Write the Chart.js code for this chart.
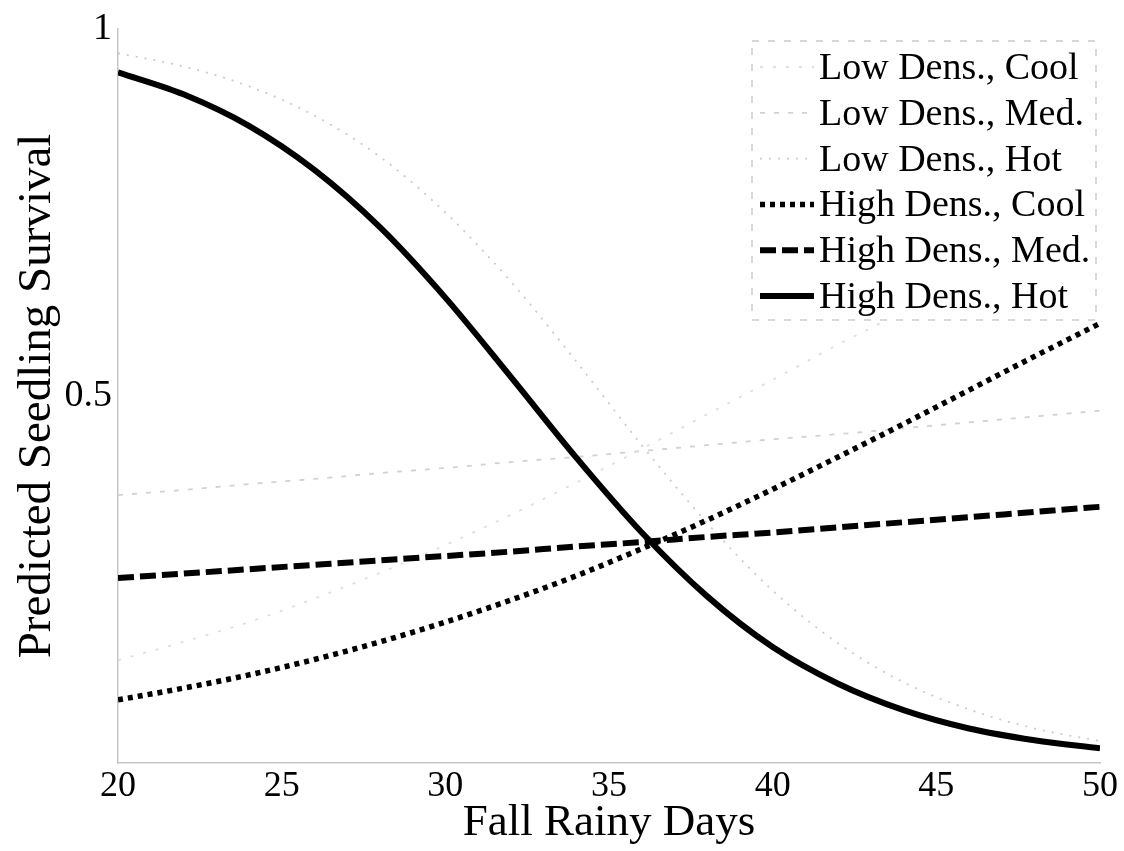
<!DOCTYPE html>
<html>
<head>
<meta charset="utf-8">
<title>Predicted Seedling Survival</title>
<script src="https://cdn.jsdelivr.net/npm/chart.js@4.4.1/dist/chart.umd.min.js"></script>
<style>
  html, body { margin: 0; padding: 0; background: #fff; }
  canvas { display: block; }
</style>
</head>
<body>
<canvas id="chart" width="1124" height="851"></canvas>
<script>
// Fall rainy days (x) and predicted survival for each density / temperature group
const days = [20, 22, 24, 26, 28, 30, 32, 34, 36, 38, 40, 42, 44, 46, 48, 50];

const lowDensCool = [0.140, 0.165, 0.192, 0.224, 0.259, 0.297, 0.338, 0.382, 0.428, 0.475, 0.522, 0.570, 0.615, 0.659, 0.701, 0.739];
const lowDensMed  = [0.365, 0.372, 0.380, 0.387, 0.395, 0.402, 0.410, 0.417, 0.425, 0.433, 0.441, 0.448, 0.456, 0.464, 0.472, 0.480];
const lowDensHot  = [0.967, 0.949, 0.922, 0.882, 0.826, 0.750, 0.656, 0.547, 0.433, 0.327, 0.235, 0.163, 0.110, 0.073, 0.047, 0.030];
const highDensCool = [0.086, 0.102, 0.120, 0.141, 0.165, 0.192, 0.222, 0.255, 0.292, 0.331, 0.373, 0.417, 0.462, 0.508, 0.554, 0.599];
const highDensMed  = [0.252, 0.258, 0.264, 0.270, 0.276, 0.282, 0.288, 0.295, 0.301, 0.308, 0.314, 0.321, 0.328, 0.335, 0.342, 0.349];
const highDensHot  = [0.941, 0.911, 0.868, 0.808, 0.730, 0.634, 0.526, 0.416, 0.314, 0.227, 0.158, 0.108, 0.072, 0.047, 0.031, 0.020];

const seriesLabels = [
  'Low Dens., Cool', 'Low Dens., Med.', 'Low Dens., Hot',
  'High Dens., Cool', 'High Dens., Med.', 'High Dens., Hot'
];

const xTicks = [20, 25, 30, 35, 40, 45, 50];
const yTicks = [0.5, 1];

const serif = "'Liberation Serif', 'Times New Roman', Times, serif";

function points(values) {
  return days.map((d, i) => ({ x: d, y: values[i] }));
}

// Boxed legend drawn inside the upper-right corner of the plot
const boxedLegend = {
  id: 'boxedLegend',
  afterDraw(chart) {
    const ctx = chart.ctx;
    const area = chart.chartArea;
    const left = 752, top = 41, right = area.right - 4, bottom = 320;
    ctx.save();
    ctx.fillStyle = '#ffffff';
    ctx.fillRect(left, top, right - left, bottom - top);
    ctx.strokeStyle = '#cccccc';
    ctx.lineWidth = 1.5;
    ctx.setLineDash([7, 9]);
    ctx.strokeRect(left, top, right - left, bottom - top);

    ctx.font = '38px ' + serif;
    ctx.textBaseline = 'alphabetic';
    ctx.textAlign = 'left';
    chart.data.datasets.forEach((ds, i) => {
      const baseline = 79 + i * 45.8;
      const ly = baseline - 12;
      ctx.save();
      ctx.strokeStyle = ds.borderColor;
      ctx.lineWidth = ds.borderWidth;
      ctx.setLineDash(ds.borderDash || []);
      ctx.lineCap = 'butt';
      ctx.beginPath();
      ctx.moveTo(760, ly);
      ctx.lineTo(814, ly);
      ctx.stroke();
      ctx.restore();
      ctx.fillStyle = '#000';
      ctx.fillText(ds.label, 819, baseline);
    });
    ctx.restore();
  }
};

const styles = [
  { color: '#dedede', width: 1.8, dash: [3, 10] },
  { color: '#d2d2d2', width: 1.8, dash: [5, 9] },
  { color: '#cbcbcb', width: 1.8, dash: [2, 7] },
  { color: '#000000', width: 5.5, dash: [5, 5] },
  { color: '#000000', width: 6,   dash: [16, 6] },
  { color: '#000000', width: 6,   dash: [] }
];
const seriesValues = [lowDensCool, lowDensMed, lowDensHot, highDensCool, highDensMed, highDensHot];

const datasets = seriesValues.map((vals, i) => ({
  label: seriesLabels[i],
  data: points(vals),
  borderColor: styles[i].color,
  borderWidth: styles[i].width,
  borderDash: styles[i].dash,
  order: i < 3 ? 1 : 0,
  fill: false
}));

new Chart(document.getElementById('chart'), {
  type: 'line',
  data: { datasets },
  options: {
    responsive: false,
    animation: false,
    devicePixelRatio: 1,
    layout: { padding: { top: 29, right: 22, bottom: 0, left: 0 } },
    plugins: {
      legend: { display: false },
      tooltip: { enabled: false }
    },
    elements: {
      point: { radius: 0 },
      line: { cubicInterpolationMode: 'monotone', borderCapStyle: 'butt', borderJoinStyle: 'round' }
    },
    scales: {
      x: {
        type: 'linear',
        min: 20,
        max: 50,
        afterBuildTicks: axis => { axis.ticks = xTicks.map(v => ({ value: v })); },
        afterFit: scale => { scale.height = 88; },
        grid: { display: false, drawTicks: false },
        border: { display: true, color: '#c6c6c6', width: 1.5, dash: [8, 7] },
        ticks: {
          callback: v => String(v),
          font: { family: serif, size: 36, lineHeight: 1 },
          color: '#000',
          padding: 6,
          maxRotation: 0,
          autoSkip: false
        },
        title: {
          display: true,
          text: 'Fall Rainy Days',
          font: { family: serif, size: 45, lineHeight: 1 },
          color: '#000',
          padding: { top: 0, bottom: 5 }
        }
      },
      y: {
        type: 'linear',
        min: 0,
        max: 1,
        afterBuildTicks: axis => { axis.ticks = yTicks.map(v => ({ value: v })); },
        afterFit: scale => { scale.width = 118; },
        grid: { display: false, drawTicks: false },
        border: { display: true, color: '#c6c6c6', width: 1.5, dash: [8, 7] },
        ticks: {
          callback: v => String(v),
          font: { family: serif, size: 38, lineHeight: 1 },
          color: '#000',
          padding: 6,
          autoSkip: false
        },
        title: {
          display: true,
          text: 'Predicted Seedling Survival',
          font: { family: serif, size: 47, lineHeight: 1 },
          color: '#000',
          padding: { top: 14, bottom: 0 }
        }
      }
    }
  },
  plugins: [boxedLegend]
});
</script>
</body>
</html>
